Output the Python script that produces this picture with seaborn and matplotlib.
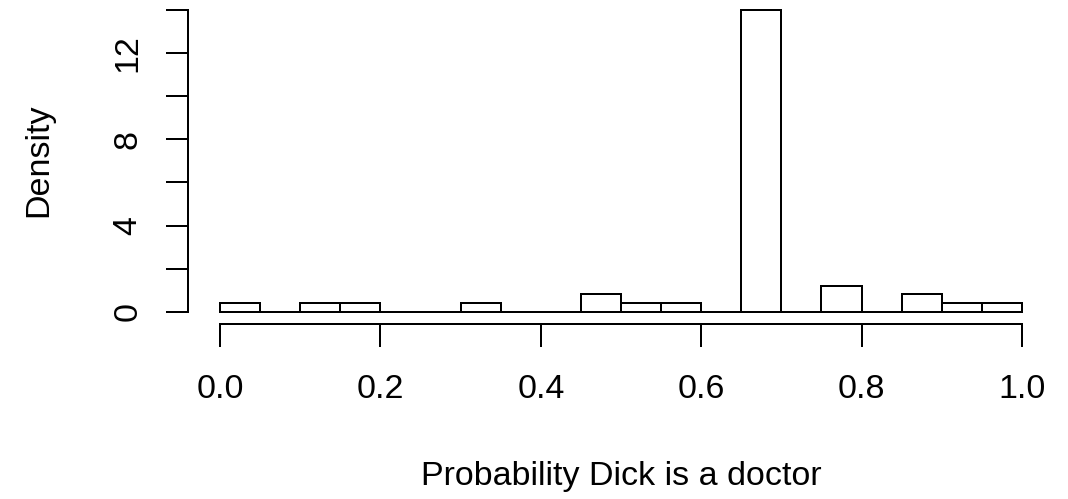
import numpy as np
import matplotlib
matplotlib.use("Agg")
import matplotlib.pyplot as plt
import seaborn as sns

# histogram of probability estimates, bin width 0.05
bin_edges = [round(0.05 * i, 2) for i in range(21)]
bin_mids = [round(0.025 + 0.05 * i, 3) for i in range(20)]
density = [0.4, 0.0, 0.4, 0.4, 0.0, 0.0, 0.4, 0.0, 0.0, 0.8,
           0.4, 0.4, 0.0, 14.0, 0.0, 1.2, 0.0, 0.8, 0.4, 0.4]

y_ticks = [0, 2, 4, 6, 8, 10, 12, 14]
y_tick_labels = ["0", "", "4", "", "8", "", "12", ""]
x_ticks = [0.0, 0.2, 0.4, 0.6, 0.8, 1.0]
x_tick_labels = ["0.0", "0.2", "0.4", "0.6", "0.8", "1.0"]

sns.set_style("white")
plt.rcParams["font.family"] = ["Liberation Sans", "DejaVu Sans"]

FS = 24.5
LW = 1.44

fig = plt.figure(figsize=(10.68, 4.99), dpi=100)
ax = fig.add_axes([188 / 1068, (499 - 323.8) / 499, 866 / 1068, 325.9 / 499])

sns.histplot(x=bin_mids, weights=density, bins=bin_edges, stat="count",
             color="white", edgecolor="black", alpha=1, linewidth=LW, ax=ax)

ax.set_xlim(-0.04, 1.04)
ax.set_ylim(-0.56, 14.56)
ax.set_xlabel("")
ax.set_ylabel("")

for s in ["top", "right"]:
    ax.spines[s].set_visible(False)
ax.spines["left"].set_bounds(0, 14)
ax.spines["bottom"].set_bounds(0, 1)
for s in ["left", "bottom"]:
    ax.spines[s].set_linewidth(LW)
    ax.spines[s].set_color("black")

ax.set_yticks(y_ticks)
ax.set_yticklabels(y_tick_labels, rotation=90, va="center")
ax.set_xticks(x_ticks)
ax.set_xticklabels(x_tick_labels)
ax.tick_params(axis="both", direction="out", length=16.2, width=LW,
               color="black", labelsize=FS, labelcolor="black",
               bottom=True, left=True)
ax.tick_params(axis="y", pad=16)
ax.tick_params(axis="x", pad=20)

fig.text(621 / 1068, 1 - 485 / 499, "Probability Dick is a doctor",
         fontsize=FS, ha="center", va="baseline", color="black")
fig.text(47 / 1068, 1 - 160 / 499, "Density", fontsize=FS, rotation=90,
         rotation_mode="anchor", ha="center", va="baseline", color="black")

fig.savefig("out.png", dpi=100, facecolor="white")
